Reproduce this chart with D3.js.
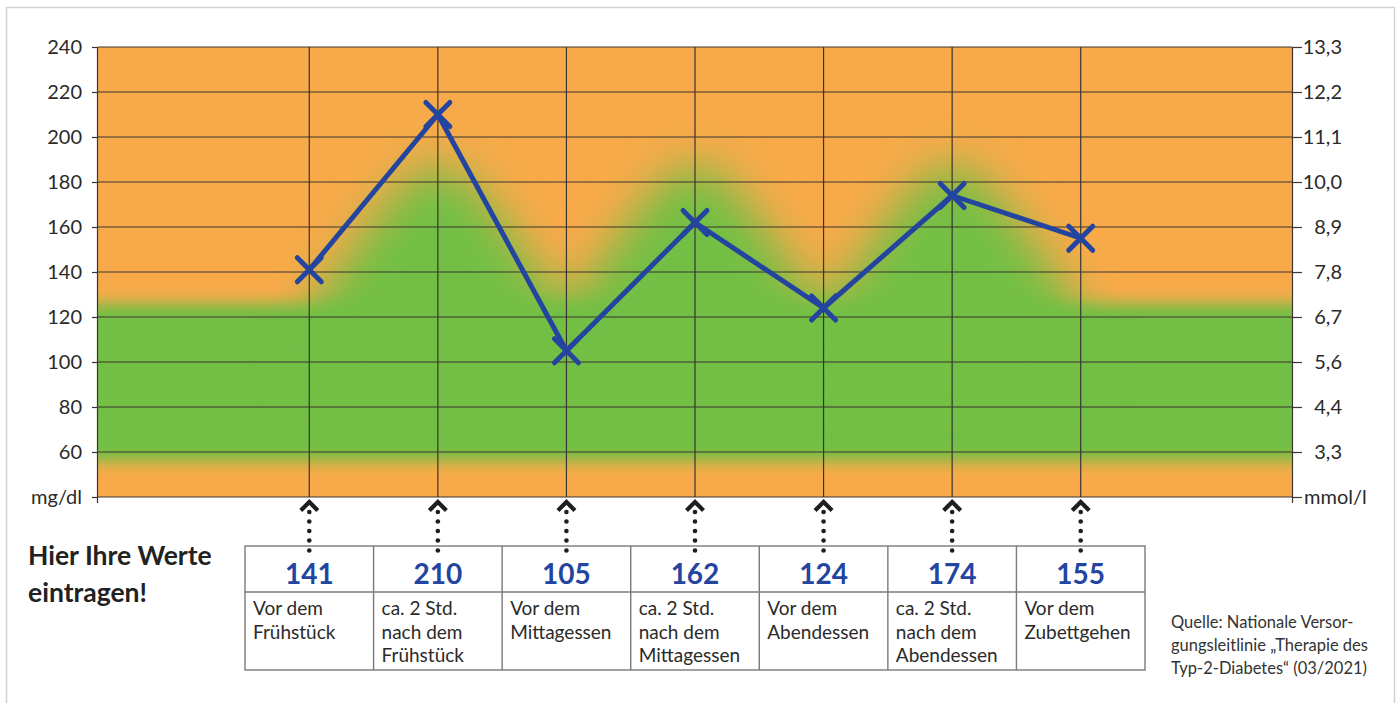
<!DOCTYPE html>
<html>
<head>
<meta charset="utf-8">
<script src="https://cdn.jsdelivr.net/npm/d3@7"></script>
<style>
  html, body { margin: 0; padding: 0; background: #fff; }
  svg { display: block; }
  text { font-family: Lato, "Open Sans", sans-serif; }
</style>
</head>
<body>
<svg id="chart" width="1399" height="703"></svg>
<script>
// Blood glucose diary: measured values across the day (mg/dl)
const mealSlots = [
  ["Vor dem", "Frühstück"],
  ["ca. 2 Std.", "nach dem", "Frühstück"],
  ["Vor dem", "Mittagessen"],
  ["ca. 2 Std.", "nach dem", "Mittagessen"],
  ["Vor dem", "Abendessen"],
  ["ca. 2 Std.", "nach dem", "Abendessen"],
  ["Vor dem", "Zubettgehen"]
];
const glucoseValues = [141, 210, 105, 162, 124, 174, 155];

// Axis ticks: mg/dl on the left, mmol/l on the right
const mgTicks = [60, 80, 100, 120, 140, 160, 180, 200, 220, 240];
const mmolLabels = ["3,3", "4,4", "5,6", "6,7", "7,8", "8,9", "10,0", "11,1", "12,2", "13,3"];
const mgDomain = [40, 240];

// Target zone (green): fasting band and the higher post-meal allowance
const fastingBand = [56, 126];
const postMealSlots = [1, 3, 5];
const postMealProfile = [   // [pixel offset from slot centre, mg/dl]
  [-130, 124], [-85, 150], [-45, 174], [0, 188], [45, 174], [85, 150], [130, 124]
];

const W = 1399, H = 703;
const plot = { left: 98, right: 1292, top: 47, bottom: 497 };
const table = { left: 245, right: 1145, top: 546, mid: 592, bottom: 670 };

const svg = d3.select("#chart");

const y = d3.scaleLinear().domain(mgDomain).range([plot.bottom, plot.top]);
const x = d3.scaleBand().domain(d3.range(mealSlots.length)).range([table.left, table.right]);
const cx = i => x(i) + x.bandwidth() / 2;

const ORANGE = "#f8aa4a", GREEN = "#72bf44", BLUE = "#2345a0", GRID = "#3a3530";

// Outer frame
svg.append("rect")
  .attr("x", 6.5).attr("y", 7.5).attr("width", 1388).attr("height", 705)
  .attr("fill", "none").attr("stroke", "#d2d2d2").attr("stroke-width", 1.5);

const defs = svg.append("defs");
defs.append("clipPath").attr("id", "plotClip")
  .append("rect")
  .attr("x", plot.left).attr("y", plot.top)
  .attr("width", plot.right - plot.left).attr("height", plot.bottom - plot.top);
defs.append("filter").attr("id", "softBand")
  .attr("x", "-10%").attr("y", "-50%").attr("width", "120%").attr("height", "200%")
  .append("feGaussianBlur").attr("stdDeviation", 7.5);
defs.append("filter").attr("id", "softBump")
  .attr("x", "-50%").attr("y", "-50%").attr("width", "200%").attr("height", "200%")
  .append("feGaussianBlur").attr("stdDeviation", 23);

// Background zones
const bg = svg.append("g").attr("clip-path", "url(#plotClip)");
bg.append("rect")
  .attr("x", plot.left).attr("y", plot.top)
  .attr("width", plot.right - plot.left).attr("height", plot.bottom - plot.top)
  .attr("fill", ORANGE);
bg.append("g").attr("filter", "url(#softBand)")
  .append("rect")
  .attr("x", plot.left - 60).attr("y", y(fastingBand[1]))
  .attr("width", plot.right - plot.left + 120)
  .attr("height", y(fastingBand[0]) - y(fastingBand[1]))
  .attr("fill", GREEN);
const bumpLine = d3.line().curve(d3.curveCatmullRom.alpha(0.5));
const bumps = bg.append("g").attr("filter", "url(#softBump)");
postMealSlots.forEach(i => {
  const pts = postMealProfile.map(([dx, v]) => [cx(i) + dx, y(v)]);
  const d = bumpLine(pts) + `L${cx(i) + 130},${y(90)}L${cx(i) - 130},${y(90)}Z`;
  bumps.append("path").attr("d", d).attr("fill", GREEN);
});

// Gridlines
const grid = svg.append("g").attr("stroke", GRID).attr("stroke-width", 1.2).attr("fill", "none");
grid.selectAll("line.h").data(mgTicks.concat([40])).join("line")
  .attr("x1", plot.left).attr("x2", plot.right)
  .attr("y1", d => y(d)).attr("y2", d => y(d));
grid.selectAll("line.v").data(d3.range(mealSlots.length)).join("line")
  .attr("x1", cx).attr("x2", cx)
  .attr("y1", plot.top).attr("y2", plot.bottom);

// Left axis (mg/dl)
const leftAxis = d3.axisLeft(y)
  .tickValues(mgTicks.concat([40]))
  .tickSize(6).tickPadding(10)
  .tickFormat(d => d === 40 ? "mg/dl" : d);
const gl = svg.append("g").attr("transform", `translate(${plot.left},0)`).call(leftAxis);
gl.select(".domain").attr("d", `M-0.5,${plot.top}V${plot.bottom + 6}`)
  .attr("stroke", GRID).attr("stroke-width", 1.2);

// Right axis (mmol/l)
const mmolOf = new Map(mgTicks.map((t, i) => [t, mmolLabels[i]]));
const rightAxis = d3.axisRight(y)
  .tickValues(mgTicks.concat([40]))
  .tickSize(10).tickPadding(2)
  .tickFormat(d => d === 40 ? "mmol/l" : mmolOf.get(d));
const gr = svg.append("g").attr("transform", `translate(${plot.right},0)`).call(rightAxis);
gr.select(".domain").attr("d", `M0.5,${plot.top}V${plot.bottom + 6}`)
  .attr("stroke", GRID).attr("stroke-width", 1.2);
gr.selectAll(".tick text")
  .attr("text-anchor", d => d === 40 ? "start" : "end")
  .attr("x", d => d === 40 ? 12 : 50);

[gl, gr].forEach(g => {
  g.selectAll(".tick line").attr("stroke", GRID).attr("stroke-width", 1.2);
  g.selectAll(".tick text").attr("fill", "#2a2a2a")
    .style("font-size", "20px").style("font-family", "Lato, sans-serif");
});

// Measurement line with cross markers
svg.append("path")
  .datum(glucoseValues)
  .attr("d", d3.line().x((d, i) => cx(i)).y(d => y(d)))
  .attr("fill", "none").attr("stroke", BLUE)
  .attr("stroke-width", 5).attr("stroke-linejoin", "round").attr("stroke-linecap", "round");
const s = 12;
svg.append("g").selectAll("path").data(glucoseValues).join("path")
  .attr("d", (d, i) => {
    const px = cx(i), py = y(d);
    return `M${px - s},${py - s}L${px + s},${py + s}M${px - s},${py + s}L${px + s},${py - s}`;
  })
  .attr("fill", "none").attr("stroke", BLUE)
  .attr("stroke-width", 5).attr("stroke-linecap", "round");

// Dotted pointers from the table up to the chart
const pointers = svg.append("g").selectAll("g").data(d3.range(mealSlots.length)).join("g")
  .attr("transform", i => `translate(${cx(i)},0)`);
pointers.append("path")
  .attr("d", "M-8.5,510.5L0,502L8.5,510.5")
  .attr("fill", "none").attr("stroke", "#1e1e1e").attr("stroke-width", 4.2)
  .attr("stroke-linejoin", "miter");
pointers.selectAll("circle").data([512, 521.5, 531, 540.5, 550.5]).join("circle")
  .attr("cx", 0).attr("cy", d => d).attr("r", 2.3).attr("fill", "#1e1e1e");

// Value table
const tbl = svg.append("g");
tbl.append("rect")
  .attr("x", table.left).attr("y", table.top)
  .attr("width", table.right - table.left).attr("height", table.bottom - table.top)
  .attr("fill", "none").attr("stroke", "#7a7a7a").attr("stroke-width", 1.4);
tbl.append("line")
  .attr("x1", table.left).attr("x2", table.right)
  .attr("y1", table.mid).attr("y2", table.mid)
  .attr("stroke", "#7a7a7a").attr("stroke-width", 1.4);
tbl.selectAll("line.sep").data(d3.range(1, mealSlots.length)).join("line")
  .attr("class", "sep")
  .attr("x1", i => x(i)).attr("x2", i => x(i))
  .attr("y1", table.top).attr("y2", table.bottom)
  .attr("stroke", "#7a7a7a").attr("stroke-width", 1.4);
tbl.selectAll("text.val").data(glucoseValues).join("text")
  .attr("class", "val")
  .attr("x", (d, i) => cx(i)).attr("y", 584)
  .attr("text-anchor", "middle")
  .attr("fill", BLUE).style("font-size", "28px").style("font-weight", 700)
  .text(d => d);
const lab = tbl.selectAll("text.lab").data(mealSlots).join("text")
  .attr("class", "lab")
  .attr("x", (d, i) => x(i) + 8).attr("y", 615)
  .attr("fill", "#2a2a2a").style("font-size", "19px");
lab.selectAll("tspan").data(d => d).join("tspan")
  .attr("x", function () { return d3.select(this.parentNode).attr("x"); })
  .attr("dy", (d, j) => j === 0 ? 0 : 23.5)
  .text(d => d);

// Call to action
svg.append("text")
  .attr("x", 28).attr("y", 565)
  .attr("fill", "#222").style("font-size", "26.5px").style("font-weight", 700)
  .selectAll("tspan").data(["Hier Ihre Werte", "eintragen!"]).join("tspan")
  .attr("x", 28).attr("dy", (d, j) => j === 0 ? 0 : 36.5)
  .text(d => d);

// Source note
svg.append("text")
  .attr("x", 1171).attr("y", 628)
  .attr("fill", "#333").style("font-size", "16.5px")
  .selectAll("tspan")
  .data(["Quelle: Nationale Versor-", "gungsleitlinie „Therapie des", "Typ-2-Diabetes“ (03/2021)"])
  .join("tspan")
  .attr("x", 1171).attr("dy", (d, j) => j === 0 ? 0 : 23)
  .text(d => d);
</script>
</body>
</html>
